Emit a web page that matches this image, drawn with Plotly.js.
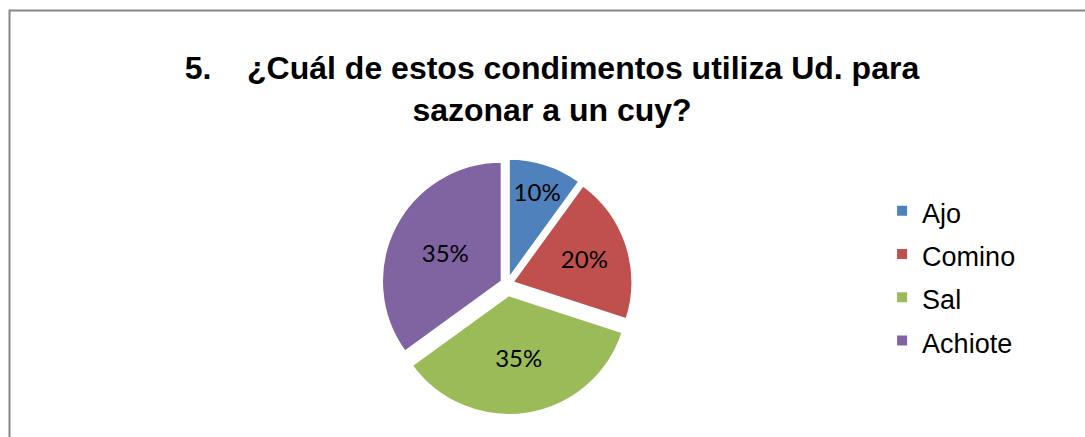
<!DOCTYPE html>
<html>
<head>
<meta charset="utf-8">
<script src="https://cdn.plot.ly/plotly-3.0.1.min.js"></script>
<style>html,body{margin:0;padding:0;background:#fff;}#chart{width:1085px;height:437px;}</style>
</head>
<body>
<div id="chart"></div>
<script>
const categories = ["Ajo", "Comino", "Sal", "Achiote"];
const values = [10, 20, 35, 35];
const sliceColors = ["#4F81BD", "#C0504D", "#9BBB59", "#8064A2"];
const pulls = [0.05, 0.05, 0.095, 0.05];
const titleText = "5.\u00a0\u00a0\u00a0\u00a0¿Cuál de estos condimentos utiliza Ud. para<br>sazonar a un cuy?";

const W = 1085, H = 437;
const cx = 507, cy = 284, rOuter = 131;

const legendLabels = categories.map(c => "<span style='font-size:27px'>" + c + "</span>");

const trace = {
  type: "pie",
  labels: legendLabels,
  values: values,
  sort: false,
  direction: "clockwise",
  rotation: 0,
  pull: pulls,
  marker: {colors: sliceColors, line: {color: "#ffffff", width: 2}},
  textinfo: "percent",
  texttemplate: "%{percent:.0%}",
  textposition: "inside",
  insidetextorientation: "horizontal",
  textfont: {family: "Lato, 'Open Sans', sans-serif", size: 24, color: "#000000"},
  hoverinfo: "label+percent",
  domain: {
    x: [(cx - rOuter) / W, (cx + rOuter) / W],
    y: [(H - cy - rOuter) / H, (H - cy + rOuter) / H]
  }
};

const layout = {
  width: W,
  height: H,
  margin: {l: 0, r: 0, t: 0, b: 0},
  paper_bgcolor: "#ffffff",
  plot_bgcolor: "#ffffff",
  title: {
    text: titleText,
    font: {family: "'Liberation Sans', Arial, sans-serif", size: 32, color: "#000000", weight: "bold"},
    x: 552 / W,
    xanchor: "center",
    xref: "paper",
    y: 1 - 79 / H,
    yanchor: "top",
    yref: "container"
  },
  showlegend: true,
  legend: {
    x: 0.813,
    xanchor: "left",
    y: 1 - 276 / H,
    yanchor: "middle",
    font: {family: "'Liberation Sans', Arial, sans-serif", size: 31, color: "#000000"},
    bgcolor: "rgba(0,0,0,0)",
    borderwidth: 0
  },
  shapes: [{
    type: "rect",
    xref: "paper", yref: "paper",
    x0: 9.5 / W, x1: 1.02, y0: -0.02, y1: 1 - 10.5 / H,
    line: {color: "#888888", width: 2},
    fillcolor: "rgba(0,0,0,0)",
    layer: "below"
  }]
};

Plotly.newPlot("chart", [trace], layout, {displayModeBar: false, staticPlot: true});
</script>
</body>
</html>
